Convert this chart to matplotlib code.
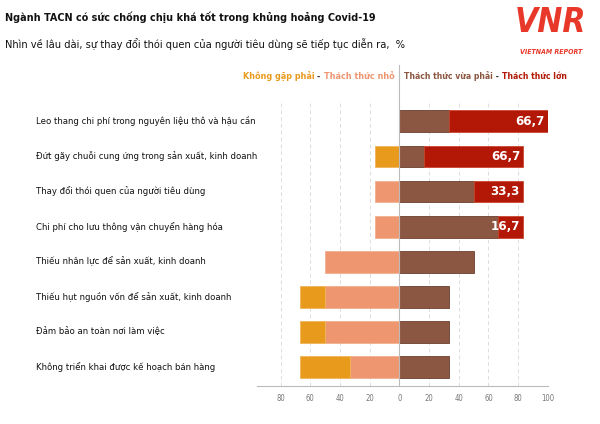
import matplotlib
matplotlib.use("Agg")
import matplotlib.pyplot as plt

plt.rcParams['font.family'] = ['Liberation Sans Narrow', 'DejaVu Sans']
plt.rcParams['font.stretch'] = 'condensed'

categories = [
    "Leo thang chi phí trong nguyên liệu thô và hậu cần",
    "Đứt gãy chuỗi cung ứng trong sản xuất, kinh doanh",
    "Thay đổi thói quen của người tiêu dùng",
    "Chi phí cho lưu thông vận chuyển hàng hóa",
    "Thiếu nhân lực để sản xuất, kinh doanh",
    "Thiếu hụt nguồn vốn để sản xuất, kinh doanh",
    "Đảm bảo an toàn nơi làm việc",
    "Không triển khai được kế hoạch bán hàng",
]
khong_gap = [0, 16.7, 0, 0, 0, 16.7, 16.7, 33.3]
nho = [0, 0, 16.7, 16.7, 50, 50, 50, 33.3]
vua_phai = [33.3, 16.7, 50, 66.7, 50, 33.3, 33.3, 33.3]
lon = [66.7, 66.7, 33.3, 16.7, 0, 0, 0, 0]
xticks = [-80, -60, -40, -20, 0, 20, 40, 60, 80, 100]
xtick_labels = ["80", "60", "40", "20", "0", "20", "40", "60", "80", "100"]

C_KG = "#E89A1C"
C_NHO = "#EE9670"
C_VUA = "#8C5742"
C_LON = "#B21805"

fig = plt.figure(figsize=(6, 4.24), dpi=100)
ax = fig.add_axes([0.428, 0.0896, 0.485, 0.674])
renderer = fig.canvas.get_renderer()


def fit(t, width_px):
    # shrink/grow a text so it spans about width_px pixels
    w = t.get_window_extent(renderer).width
    t.set_fontsize(t.get_fontsize() * width_px / w)


y = list(range(len(categories)))
h = 0.62
# skip zero-length pieces so no edge slivers show
for i in y:
    if nho[i] > 0:
        ax.barh(i, -nho[i], height=h, color=C_NHO, edgecolor="#F2B08F", linewidth=0.6, zorder=3)
    if khong_gap[i] > 0:
        ax.barh(i, khong_gap[i], left=-(nho[i] + khong_gap[i]), height=h, color=C_KG,
                edgecolor="#F0B55A", linewidth=0.6, zorder=3)
    if vua_phai[i] > 0:
        ax.barh(i, vua_phai[i], height=h, color=C_VUA, edgecolor="#6E3F2C", linewidth=0.6, zorder=3)
    if lon[i] > 0:
        ax.barh(i, lon[i], left=vua_phai[i], height=h, color=C_LON, edgecolor="#C9472F",
                linewidth=0.6, zorder=3)
        ax.text(vua_phai[i] + lon[i] - 2, i, ("%.1f" % lon[i]).replace(".", ","),
                color="white", fontsize=9.5, fontweight="bold", ha="right", va="center", zorder=4)

ax.set_xlim(-96, 100)
ax.set_ylim(7.54, -0.6)
for t in xticks:
    if t != 0:
        ax.plot([t, t], [7.54, -0.6], ls=(0, (4, 3)), color="#DDDDDD", lw=0.7, zorder=1)
ax.plot([0, 0], [7.54, -1.6], color="#BBBBBB", lw=0.8, zorder=5, clip_on=False)

for s in ["top", "right", "left"]:
    ax.spines[s].set_visible(False)
ax.spines["bottom"].set_color("#BBBBBB")
ax.spines["bottom"].set_linewidth(0.8)
ax.set_yticks([])
ax.set_xticks(xticks)
ax.set_xticklabels(xtick_labels, fontsize=5.5, color="#777777")
ax.tick_params(axis="x", length=0, pad=6)

trans = matplotlib.transforms.blended_transform_factory(fig.transFigure, ax.transData)
labels = []
for i, c in enumerate(categories):
    labels.append(ax.text(0.06, i, c, transform=trans, fontsize=9.5, ha="left", va="center", color="#111111"))
scale = 222 / max(t.get_window_extent(renderer).width for t in labels)
for t in labels:
    t.set_fontsize(t.get_fontsize() * scale)

# legend text, chained from the zero line outward
legL = [("Thách thức nhỏ", C_NHO), (" - ", "#333333"), ("Không gặp phải", C_KG)]
legR = [("Thách thức vừa phải", C_VUA), (" - ", "#333333"), ("Thách thức lớn", C_LON)]
zx, ly = ax.transData.transform((0, -1.28))


def chain(parts, start, side, width_px):
    fs = 8.5
    ts = [fig.text(0, ly, s, color=c, fontsize=fs, fontweight="bold", va="center", transform=None)
          for s, c in parts]
    total = sum(t.get_window_extent(renderer).width for t in ts)
    k = width_px / total
    x = start
    for t in ts:
        t.set_fontsize(fs * k)
        w = t.get_window_extent(renderer).width
        if side == "left":
            t.set_ha("right")
            t.set_x(x)
            x -= w
        else:
            t.set_ha("left")
            t.set_x(x)
            x += w


chain(legL, zx - 5, "left", 152)
chain(legR, zx + 5, "right", 162)

title = fig.text(0.009, 0.96, "Ngành TACN có sức chống chịu khá tốt trong khủng hoảng Covid-19",
                 fontsize=11, fontweight="bold", ha="left", va="center", color="#111111")
fit(title, 370)
sub = fig.text(0.009, 0.896, "Nhìn về lâu dài, sự thay đổi thói quen của người tiêu dùng sẽ tiếp tục diễn ra,  %",
               fontsize=10.5, ha="left", va="center", color="#111111")
fit(sub, 405)

# logo
fig.text(0.918, 0.948, "VNR", fontsize=24, fontweight="bold", style="italic", color="#E8382A",
         ha="center", va="center", family="DejaVu Sans")
fig.text(0.918, 0.878, "VIETNAM REPORT", fontsize=5, fontweight="bold", style="italic", color="#E8382A",
         ha="center", va="center", family="DejaVu Sans")

fig.savefig("out.png", dpi=100)
